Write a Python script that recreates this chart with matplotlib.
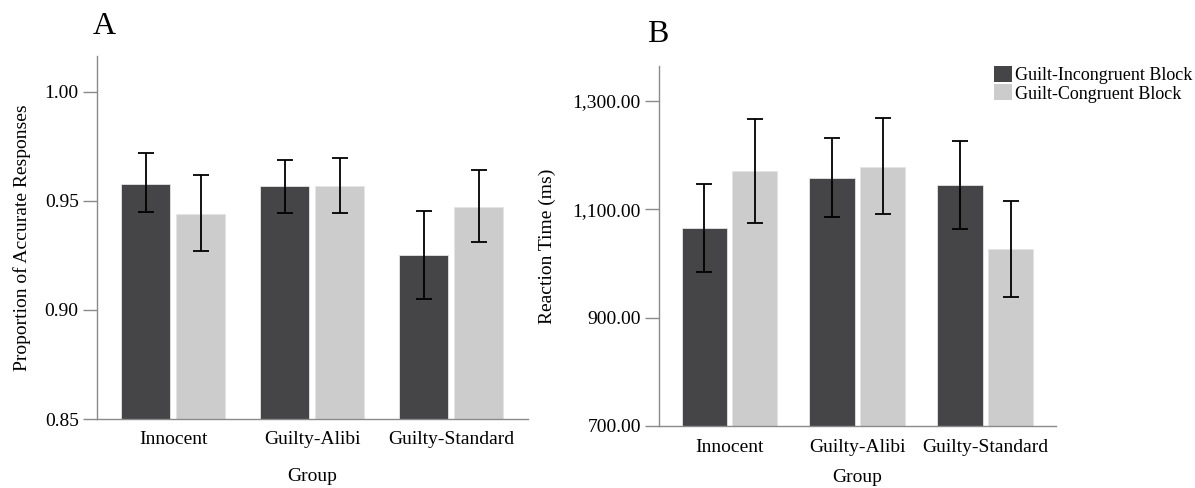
import numpy as np
import matplotlib
matplotlib.use('Agg')
import matplotlib.pyplot as plt
from matplotlib.patches import Patch
from matplotlib.ticker import FuncFormatter

plt.rcParams['font.family'] = ['Liberation Serif', 'DejaVu Serif']

# Groups and block conditions
groups = ['Innocent', 'Guilty-Alibi', 'Guilty-Standard']
blocks = ['Guilt-Incongruent Block', 'Guilt-Congruent Block']

# Panel A: proportion of accurate responses (mean, CI low, CI high)
acc_incong = [0.958, 0.957, 0.925]
acc_incong_lo = [0.945, 0.9446, 0.905]
acc_incong_hi = [0.972, 0.969, 0.9455]
acc_cong = [0.944, 0.957, 0.9474]
acc_cong_lo = [0.927, 0.9446, 0.9311]
acc_cong_hi = [0.962, 0.9697, 0.9641]

# Panel B: reaction time in ms (mean, CI low, CI high)
rt_incong = [1065.8, 1157.4, 1144.0]
rt_incong_lo = [984.6, 1085.0, 1063.9]
rt_incong_hi = [1146.4, 1231.8, 1225.7]
rt_cong = [1170.3, 1178.3, 1026.0]
rt_cong_lo = [1075.0, 1090.5, 938.5]
rt_cong_hi = [1266.3, 1267.5, 1115.0]

DARK = '#454547'
LIGHT = '#cccccc'
SPINE = '#8a8a8a'
FS = 14

W, H = 1195, 488
fig = plt.figure(figsize=(W / 100, H / 100), dpi=100)


def add_axes_px(left, top, right, bottom):
    return fig.add_axes([left / W, 1 - bottom / H, (right - left) / W, (bottom - top) / H])


def draw_panel(ax, m1, lo1, hi1, m2, lo2, hi2):
    x = np.arange(len(groups))
    width = 0.352
    gap = 0.044
    off = (width + gap) / 2
    for xs, m, lo, hi, c in [(x - off, m1, lo1, hi1, DARK), (x + off, m2, lo2, hi2, LIGHT)]:
        m = np.array(m)
        yerr = [m - np.array(lo), np.array(hi) - m]
        ax.bar(xs, m, width, color=c, edgecolor='#e4e4e4', linewidth=0.6, zorder=2)
        ax.errorbar(xs, m, yerr=yerr, fmt='none', ecolor='black', elinewidth=1.3,
                    capsize=6, capthick=1.3, zorder=3)
    ax.set_xticks(x)
    ax.set_xticklabels(groups, fontsize=FS)
    ax.set_xlim(-0.55, 2.55)
    for s in ['top', 'right']:
        ax.spines[s].set_visible(False)
    for s in ['left', 'bottom']:
        ax.spines[s].set_color(SPINE)
        ax.spines[s].set_linewidth(1.0)
        ax.spines[s].set_zorder(4)
    ax.tick_params(axis='x', length=0, pad=9)
    ax.tick_params(axis='y', length=10, width=1.0, color=SPINE, labelsize=FS, pad=3)


# Panel A
ax1 = add_axes_px(96.7, 56, 527.7, 419)
draw_panel(ax1, acc_incong, acc_incong_lo, acc_incong_hi, acc_cong, acc_cong_lo, acc_cong_hi)
ax1.set_ylim(0.85, 1.0165)
ax1.set_yticks([0.85, 0.90, 0.95, 1.00])
ax1.yaxis.set_major_formatter(FuncFormatter(lambda v, p: f'{v:.2f}'))
ax1.set_ylabel('Proportion of Accurate Responses', fontsize=FS, labelpad=10)
ax1.set_xlabel('Group', fontsize=FS, labelpad=14)

# Panel B
ax2 = add_axes_px(659, 65.7, 1055.7, 426)
draw_panel(ax2, rt_incong, rt_incong_lo, rt_incong_hi, rt_cong, rt_cong_lo, rt_cong_hi)
ax2.set_ylim(700, 1364.6)
ax2.set_yticks([700, 900, 1100, 1300])
ax2.yaxis.set_major_formatter(FuncFormatter(lambda v, p: f'{v:,.2f}'))
ax2.set_ylabel('Reaction Time (ms)', fontsize=FS, labelpad=12)
ax2.set_xlabel('Group', fontsize=FS, labelpad=10)

# Panel letters
fig.text(92.7 / W, 1 - 34.3 / H, 'A', fontsize=23, va='baseline', ha='left')
fig.text(647 / W, 1 - 42.3 / H, 'B', fontsize=23, va='baseline', ha='left')

# Legend
handles = [Patch(facecolor=DARK, edgecolor='none'), Patch(facecolor=LIGHT, edgecolor='none')]
fig.legend(handles, blocks, loc='upper left', bbox_to_anchor=(994 / W, 1 - 66 / H),
           frameon=False, fontsize=13, borderpad=0, borderaxespad=0,
           handlelength=1.0, handleheight=1.0, handletextpad=0.15, labelspacing=0.0)

fig.savefig('out.png', dpi=100)
